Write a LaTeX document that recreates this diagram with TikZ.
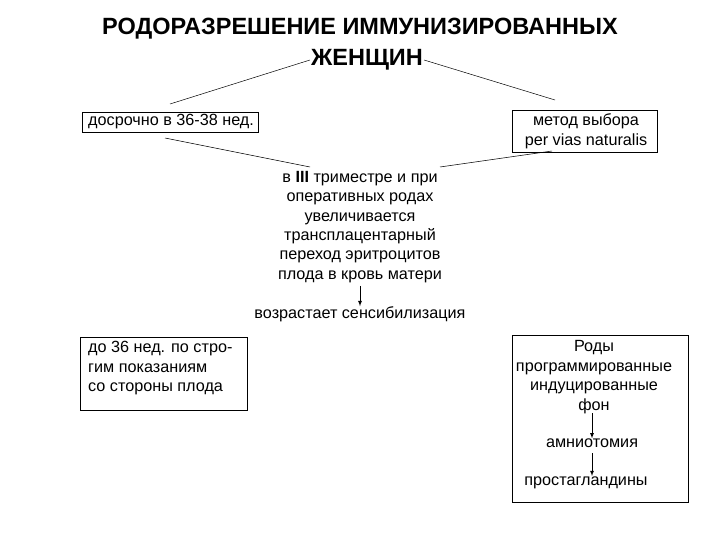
\documentclass[tikz,border=0pt]{standalone}
\usepackage{fontspec}
\setmainfont{Liberation Sans}
\begin{document}
\begin{tikzpicture}[x=1pt,y=-1pt,
  txt/.style={inner sep=0pt,font=\fontsize{16.2}{19.5}\selectfont,align=center},
  bx/.style={draw,line width=0.6pt},
  ln/.style={line width=0.5pt},
  ar/.style={line width=0.8pt,-latex}]
\useasboundingbox (0,0) rectangle (720,540);
\node[inner sep=0pt,font=\fontsize{23.5}{24}\bfseries\selectfont] (t1) at (360,29) {РОДОРАЗРЕШЕНИЕ ИММУНИЗИРОВАННЫХ};
\node[inner sep=1pt,font=\fontsize{23.5}{24}\bfseries\selectfont] (t2) at (367,60) {ЖЕНЩИН};
\draw[bx] (82,112) rectangle (258,132);
\node[txt,anchor=west] (b1) at (88,122) {досрочно в 36-38 нед.};
\draw[bx] (512,110) rectangle (657,152);
\node[txt] (b2) at (586,131) {метод выбора\\per vias naturalis};
\coordinate (l1a) at (170,104); \coordinate (l2b) at (555,100);
\coordinate (l3a) at (165,138); \coordinate (l4b) at (552,151);
\draw[ln] (l1a) -- (t2.west);
\draw[ln] (t2.east) -- (l2b);
\node[txt,align=center,font=\fontsize{16.2}{19.4}\selectfont] (c) at (360,227) {в \textbf{III} триместре и при\\оперативных родах\\увеличивается\\трансплацентарный\\переход эритроцитов\\плода в кровь матери};
\draw[ln] (l3a) -- (310,167);
\draw[ln] (440,167) -- (l4b);
\node[txt] (v) at (360,314) {возрастает сенсибилизация};
\draw[ar] (c.south) ++(0,3) -- (v.north);
\draw[bx] (80,337) rectangle (247,410);
\node[txt,anchor=north west,align=left] (b3) at (88,341) {до 36 нед. по стро-\\гим показаниям\\со стороны плода};
\draw[bx] (512,335) rectangle (688,502);
\node[txt] (r) at (594,377) {Роды\\программированные\\индуцированные\\фон};
\node[txt] (am) at (592,443) {амниотомия};
\node[txt] (pr) at (586,483) {простагландины};
\draw[ar] (592,413) -- (am.north);
\draw[ar] (592,453) -- (592,476);
\end{tikzpicture}
\end{document}
